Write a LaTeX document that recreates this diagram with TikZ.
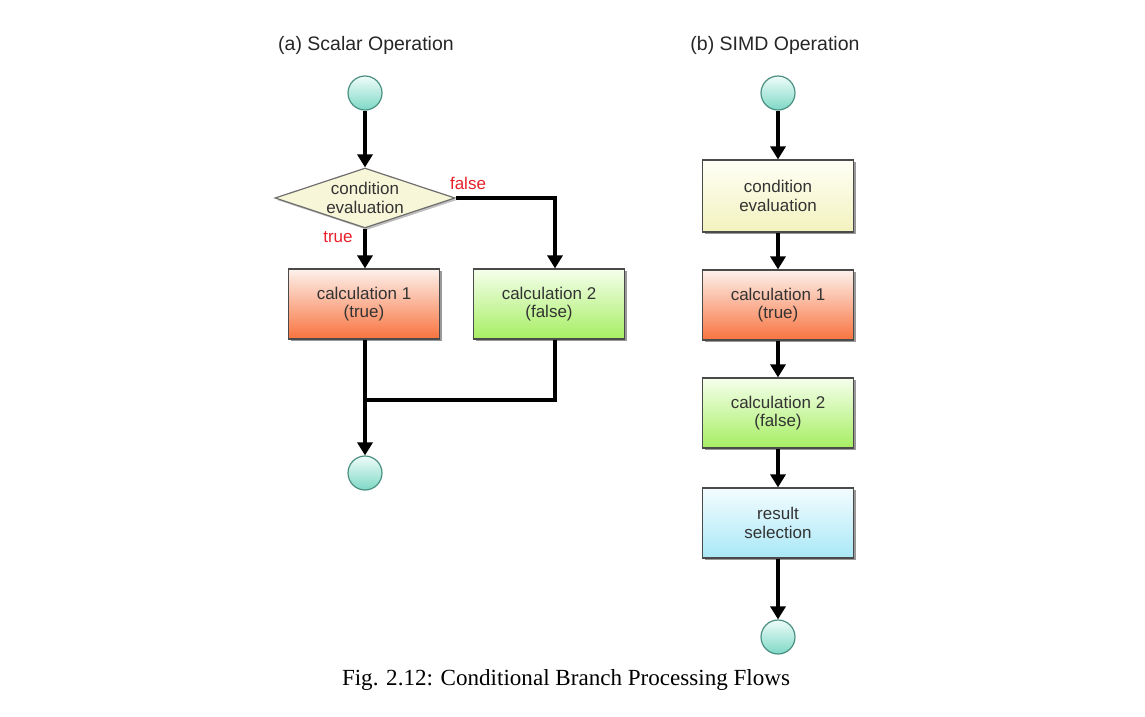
\documentclass[tikz,border=0pt]{standalone}
\usepackage{fontspec}
\usepackage{graphicx}
\newfontfamily\diag{Liberation Sans}
\newfontfamily\capfont{Liberation Serif}
\usetikzlibrary{shapes.geometric,arrows.meta,shadows}
\definecolor{circtop}{HTML}{EEFCF8}
\definecolor{circbot}{HTML}{7ED8C6}
\definecolor{circedge}{HTML}{4A8F80}
\definecolor{diafill}{HTML}{F8F6D8}
\definecolor{condtop}{HTML}{FFFFF6}
\definecolor{condbot}{HTML}{F2F2BE}
\definecolor{cAtop}{HTML}{FDF1EC}
\definecolor{cAbot}{HTML}{F8733F}
\definecolor{cBtop}{HTML}{F5FFEC}
\definecolor{cBbot}{HTML}{A6EE62}
\definecolor{restop}{HTML}{F3FCFF}
\definecolor{resbot}{HTML}{A9E8F7}
\definecolor{boxedge}{HTML}{4A4A4A}
\definecolor{labelred}{HTML}{E8202A}
\definecolor{txtgray}{HTML}{333333}
\tikzset{
  terminal/.style={circle, minimum size=34pt, inner sep=0pt, draw=circedge, line width=1.2pt,
    top color=circtop, bottom color=circbot},
  procbox/.style={rectangle, minimum width=151pt, minimum height=70pt, inner sep=2pt,
    draw=boxedge, line width=1.2pt, align=center, text=txtgray,
    font=\diag\fontsize{17}{18.5}\selectfont,
    drop shadow={shadow xshift=2pt, shadow yshift=-2pt, opacity=0.4, fill=black}},
  decision/.style={diamond, aspect=3, minimum width=180pt, minimum height=60pt, inner sep=0pt,
    draw=boxedge!80, line width=1.2pt, fill=diafill, align=center, text=txtgray,
    font=\diag\fontsize{17}{18.5}\selectfont,
    drop shadow={shadow xshift=2pt, shadow yshift=-2pt, opacity=0.25, fill=black}},
  lbl/.style={text=labelred, font=\diag\fontsize{17}{18}\selectfont, inner sep=0pt},
  ttl/.style={text=black!85, font=\diag\fontsize{19.5}{22}\selectfont, inner sep=0pt},
  flow/.style={line width=3.2pt, -{Triangle[width=15pt,length=13pt]}},
  plainline/.style={line width=3.2pt}
}
\begin{document}
\begin{tikzpicture}[x=1pt,y=-1pt]
\useasboundingbox (0,0) rectangle (1145,716);
% titles
\node[ttl] (ta) at (366,45) {(a) Scalar Operation};
\node[ttl] (tb) at (775,45) {(b) SIMD Operation};
% left: scalar
\node[terminal] (sa) at (365,93) {};
\node[decision] (dia) at (365,198) {condition\\evaluation};
\node[procbox, top color=cAtop, bottom color=cAbot] (c1) at (364,304) {calculation 1\\(true)};
\node[procbox, top color=cBtop, bottom color=cBbot] (c2) at (549,304) {calculation 2\\(false)};
\node[terminal] (ea) at (365,473) {};
\coordinate (join) at (365,400);
\node[lbl] (lf) at (468,183) {false};
\node[lbl] (lt) at (338,237) {true};
\draw[flow] (sa) -- (dia);
\draw[flow] (dia.south) -- (dia.south |- c1.north);
\draw[flow] (dia.east) -| ([xshift=6pt]c2.north);
\draw[flow] (c1.south -| sa) -- (ea);
\draw[plainline] ([xshift=6pt]c2.south) |- (join);
% right: SIMD
\node[terminal] (sb) at (778,93) {};
\node[procbox, minimum height=72pt, top color=condtop, bottom color=condbot] (cond) at (778,196) {condition\\evaluation};
\node[procbox, top color=cAtop, bottom color=cAbot] (d1) at (778,305) {calculation 1\\(true)};
\node[procbox, top color=cBtop, bottom color=cBbot] (d2) at (778,413) {calculation 2\\(false)};
\node[procbox, top color=restop, bottom color=resbot] (res) at (778,523) {result\\selection};
\node[terminal] (eb) at (778,637) {};
\draw[flow] (sb) -- (cond);
\draw[flow] (cond) -- (d1);
\draw[flow] (d1) -- (d2);
\draw[flow] (d2) -- (res);
\draw[flow] (res) -- (eb);
% caption
\node[inner sep=0pt] (cap) at (566,680) {\resizebox{448pt}{!}{\capfont\fontsize{22}{26}\selectfont Fig. 2.12: Conditional Branch Processing Flows}};
\end{tikzpicture}
\end{document}
